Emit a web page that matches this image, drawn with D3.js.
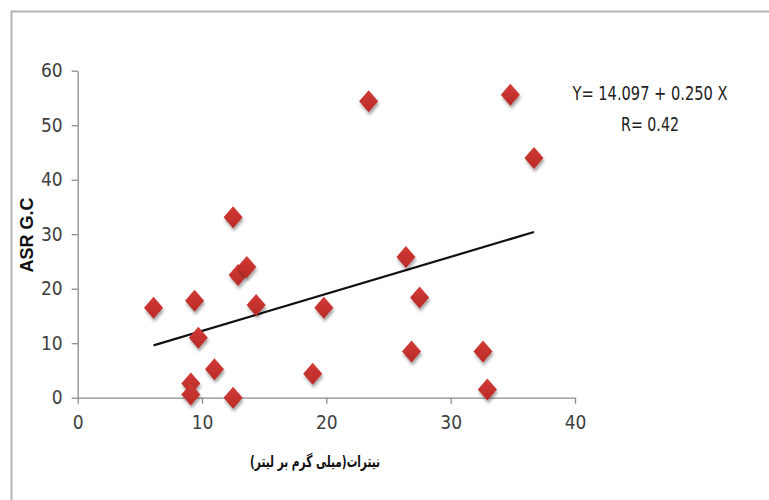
<!DOCTYPE html>
<html>
<head>
<meta charset="utf-8">
<script src="https://cdn.jsdelivr.net/npm/d3@7"></script>
<style>
  html, body { margin: 0; padding: 0; background: #fff; }
  svg { display: block; }
</style>
</head>
<body>
<svg id="chart" width="769" height="500"></svg>
<script>
// ---- data ----
const nitrateX = [6.1, 9.4, 9.7, 9.1, 9.1, 11.0, 12.5, 12.5, 12.9, 13.6, 14.35, 18.9, 19.8, 23.4, 26.4, 26.85, 27.5, 32.6, 32.95, 34.8, 36.7];
const asrY     = [16.5, 17.8, 11.0, 2.6, 0.6, 5.2, 33.1, 0.0, 22.5, 24.0, 17.0, 4.4, 16.5, 54.4, 25.8, 8.5, 18.4, 8.5, 1.5, 55.6, 44.0];
const trendX = [6.1, 36.7];
const trendY = [9.6, 30.4];
const xTicks = [0, 10, 20, 30, 40];
const yTicks = [0, 10, 20, 30, 40, 50, 60];
const equationLines = ["Y= 14.097 + 0.250 X", "R= 0.42"];
const xTitle = "نیترات(میلی گرم بر لیتر)";
const yTitle = "ASR G.C";

const svg = d3.select("#chart");
const x = d3.scaleLinear().domain([0, 40]).range([77.7, 575]);
const y = d3.scaleLinear().domain([0, 60]).range([397.7, 70.7]);
const tickFont = '"Liberation Sans Narrow", "DejaVu Sans Condensed", "Arial Narrow", sans-serif';

// outer frame (top & left visible, rest runs off the picture)
svg.append("path")
  .attr("d", "M11.5,500V11.5H769")
  .attr("fill", "none").attr("stroke", "#b3b3b3").attr("stroke-width", 2);

const defs = svg.append("defs");
const f = defs.append("filter").attr("id", "shadow").attr("x", "-50%").attr("y", "-50%").attr("width", "200%").attr("height", "200%");
f.append("feDropShadow").attr("dx", 1).attr("dy", 3).attr("stdDeviation", 1.6)
  .attr("flood-color", "#000").attr("flood-opacity", 0.35);
const grad = defs.append("linearGradient").attr("id", "dg").attr("x1", 0).attr("y1", 0).attr("x2", 0).attr("y2", 1);
grad.append("stop").attr("offset", "0%").attr("stop-color", "#d23a36");
grad.append("stop").attr("offset", "100%").attr("stop-color", "#b82a27");

// axes
const xAxis = svg.append("g").attr("transform", `translate(0,${y(0)})`)
  .call(d3.axisBottom(x).tickValues(xTicks).tickSize(6).tickSizeOuter(0).tickPadding(12));
const yAxis = svg.append("g").attr("transform", `translate(${x(0)},0)`)
  .call(d3.axisLeft(y).tickValues(yTicks).tickSize(6).tickSizeOuter(0).tickPadding(9));
[xAxis, yAxis].forEach(g => {
  g.select(".domain").attr("stroke", "#8c8c8c").attr("stroke-width", 1.3);
  g.selectAll(".tick line").attr("stroke", "#8c8c8c").attr("stroke-width", 1.3);
  g.selectAll(".tick text").attr("fill", "#404040").style("font-family", tickFont).style("font-size", "19px");
});

// trend line
svg.append("line")
  .attr("x1", x(trendX[0])).attr("y1", y(trendY[0]))
  .attr("x2", x(trendX[1])).attr("y2", y(trendY[1]))
  .attr("stroke", "#111").attr("stroke-width", 2.2);

// points
const pts = nitrateX.map((v, i) => ({ x: v, y: asrY[i] }));
svg.append("g").selectAll("path").data(pts).join("path")
  .attr("transform", d => `translate(${x(d.x)},${y(d.y)})`)
  .attr("d", "M0,-11L9.5,0L0,11L-9.5,0Z")
  .attr("fill", "url(#dg)")
  .attr("filter", "url(#shadow)");

// equation
svg.append("g").selectAll("text").data(equationLines).join("text")
  .attr("x", 650).attr("y", (d, i) => 100 + i * 31)
  .attr("text-anchor", "middle")
  .attr("fill", "#222")
  .attr("textLength", (d, i) => i === 0 ? 155 : 58)
  .attr("lengthAdjust", "spacingAndGlyphs")
  .style("font-family", tickFont).style("font-size", "19px")
  .text(d => d);

// axis titles
svg.append("text")
  .attr("x", 315).attr("y", 467)
  .attr("text-anchor", "middle")
  .attr("direction", "rtl")
  .attr("fill", "#111")
  .attr("textLength", 130)
  .attr("lengthAdjust", "spacingAndGlyphs")
  .style("font-family", '"DejaVu Sans", sans-serif').style("font-weight", "bold").style("font-size", "16px")
  .text(xTitle);

svg.append("text")
  .attr("transform", `translate(33,235) rotate(-90)`)
  .attr("text-anchor", "middle")
  .attr("fill", "#111")
  .style("font-family", '"Liberation Sans", Arial, sans-serif').style("font-weight", "bold").style("font-size", "18px")
  .text(yTitle);
</script>
</body>
</html>
